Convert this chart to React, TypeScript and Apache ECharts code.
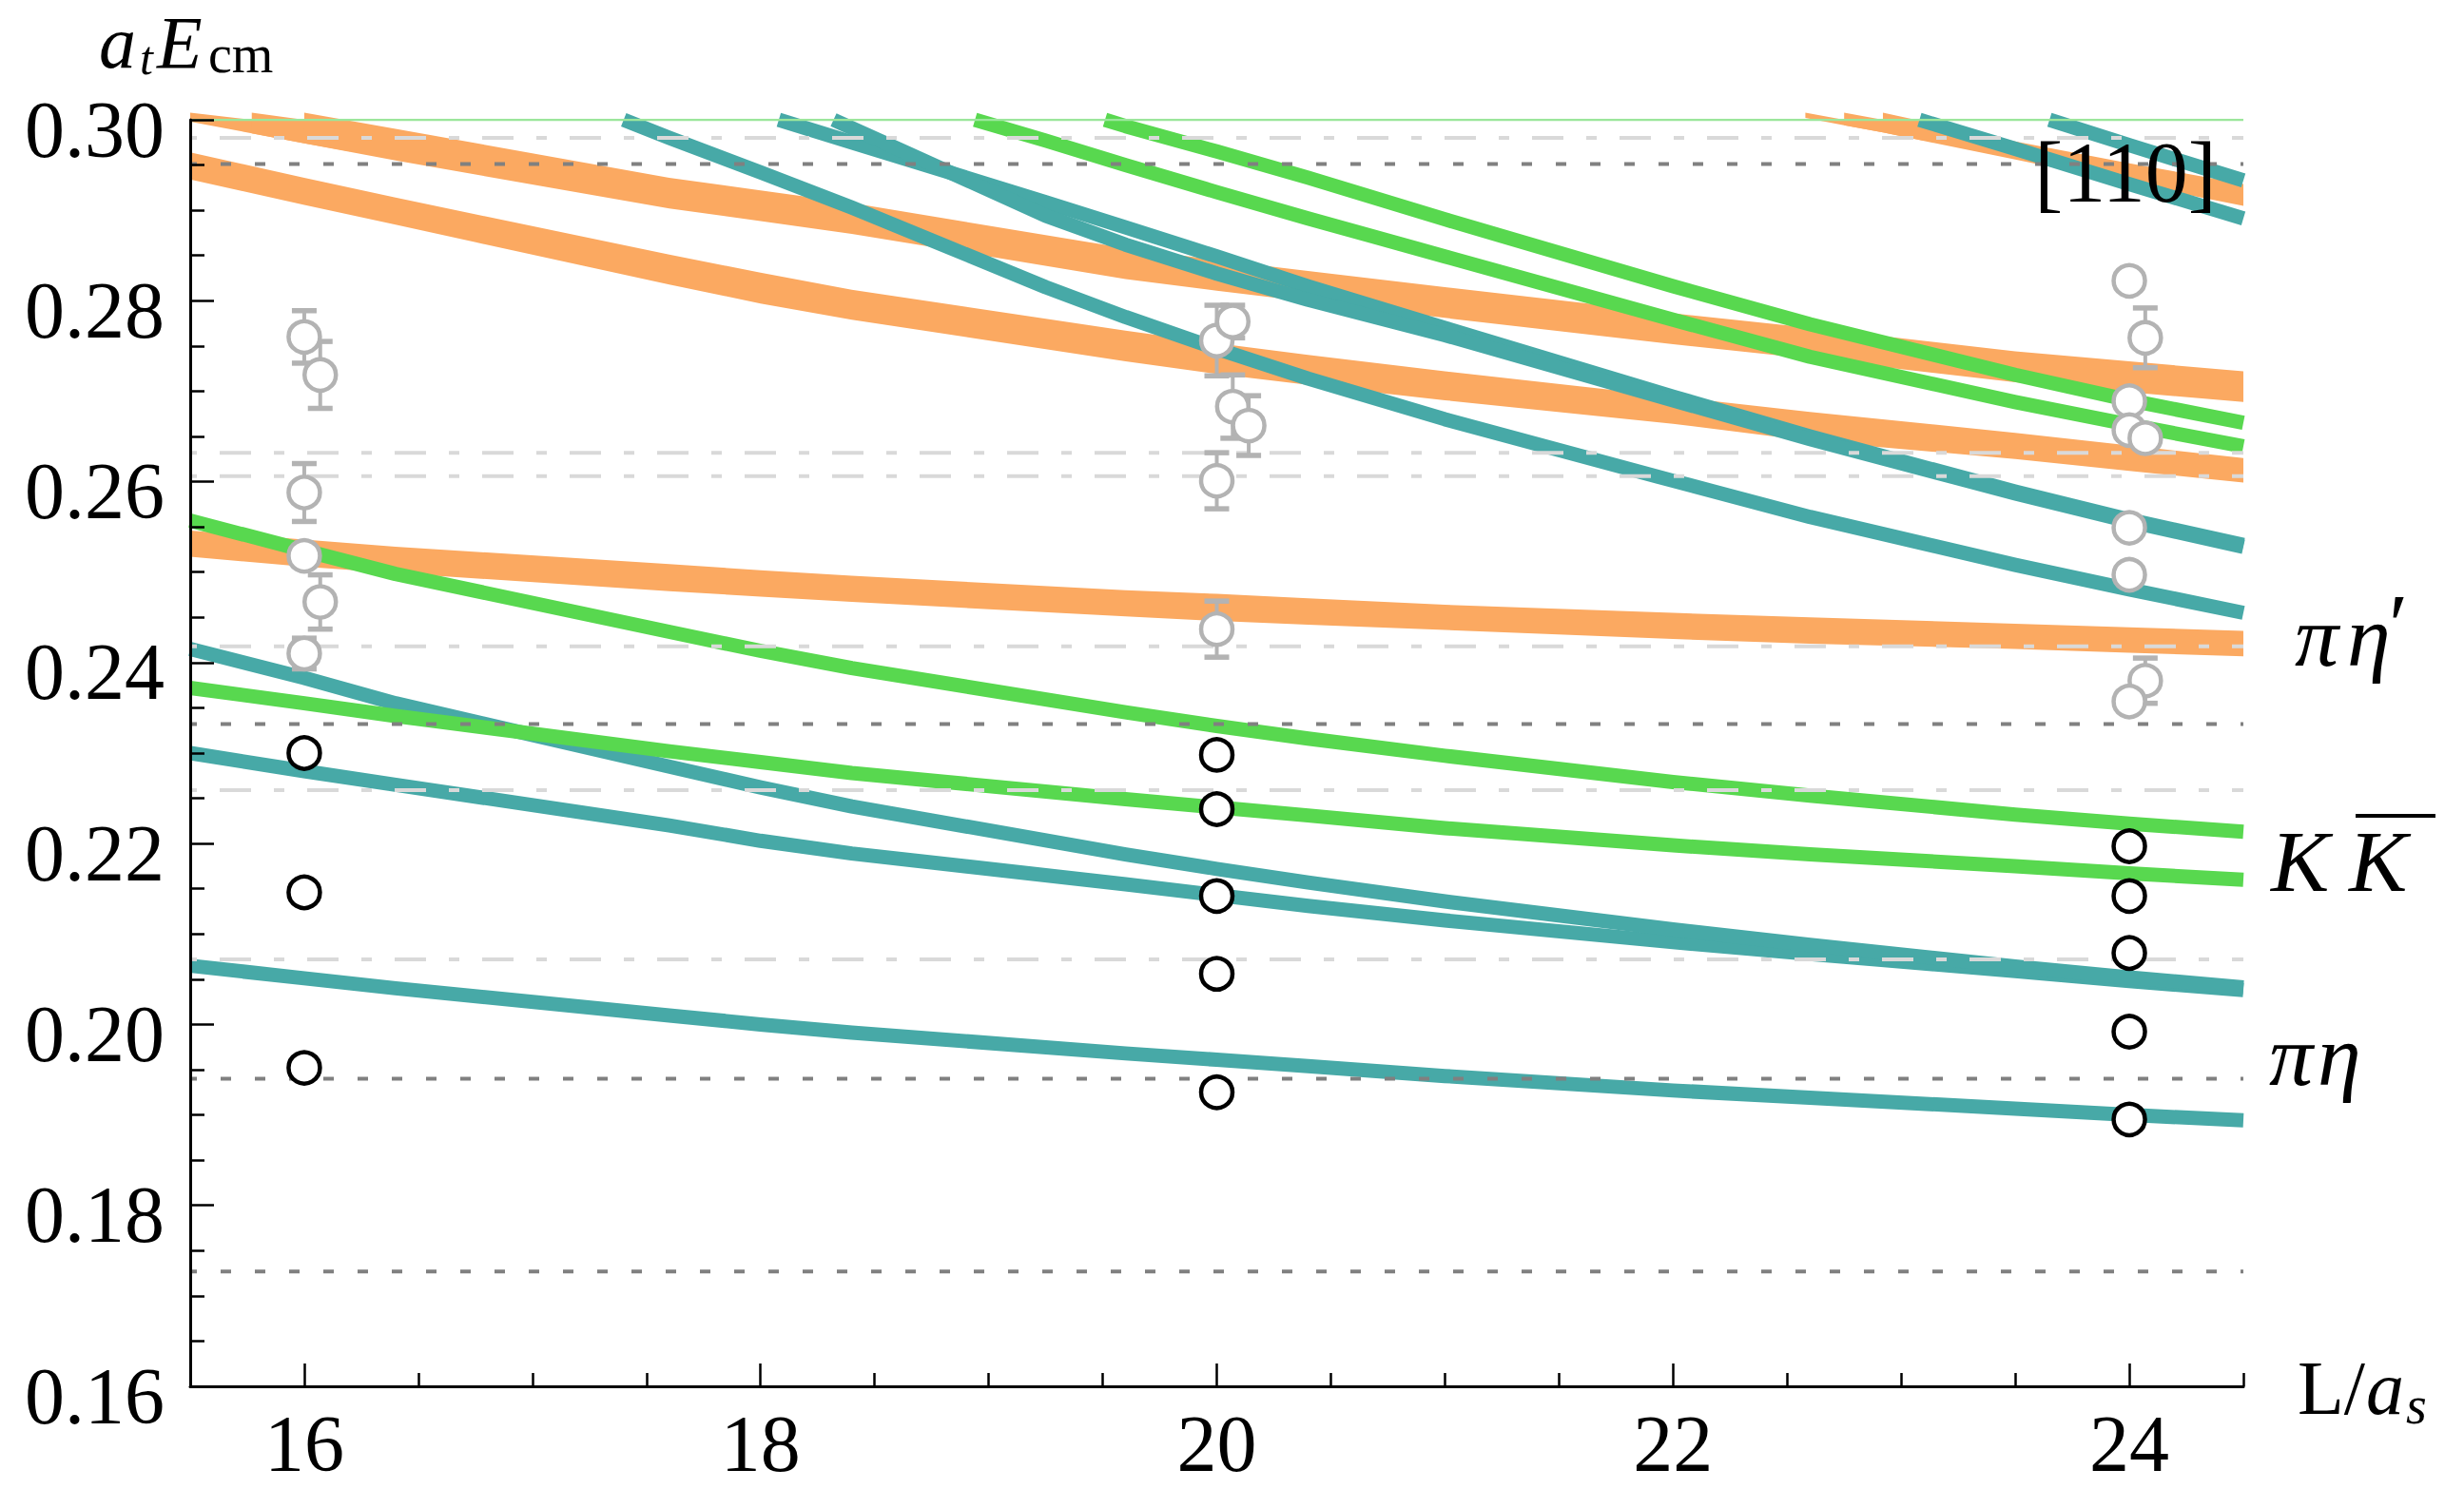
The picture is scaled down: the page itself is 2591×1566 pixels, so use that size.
import React, { useEffect, useRef } from "react";
import * as echarts from "echarts";

// ---------------------------------------------------------------------------
// Data
// ---------------------------------------------------------------------------

// L/a_s values at which the full-range curves are sampled
const L_SAMPLES = [15.5, 16, 16.4, 17.6, 18, 18.4, 19.6, 20, 20.4, 21, 22, 22.6, 23.5, 24, 24.5];

// πη non-interacting levels (teal), full range
const PI_ETA_1 = [0.2065, 0.2051, 0.204, 0.201, 0.2, 0.1991, 0.1968, 0.1961, 0.1954, 0.1943, 0.1927, 0.1919, 0.1907, 0.19, 0.1894];
const PI_ETA_2 = [0.23, 0.228, 0.2265, 0.222, 0.2203, 0.2189, 0.2155, 0.2143, 0.2131, 0.2115, 0.2091, 0.2078, 0.2059, 0.2048, 0.2038];
const PI_ETA_3 = [0.2415, 0.2383, 0.2355, 0.2285, 0.2262, 0.2241, 0.2188, 0.2172, 0.2157, 0.2136, 0.2105, 0.2088, 0.2064, 0.2052, 0.2041];

// πη levels entering from the top edge: [L/a_s, a_t E_cm]
const PI_ETA_4 = [[17.4, 0.3], [17.6, 0.298], [18, 0.2942], [18.4, 0.2903], [19.25, 0.2815], [19.6, 0.2782], [20, 0.2747], [20.4, 0.2714], [21, 0.2669], [22, 0.2601], [22.6, 0.2561], [23.5, 0.2508], [24, 0.2481], [24.5, 0.2455]];
const PI_ETA_5 = [[18.08, 0.3], [18.4, 0.2975], [19.25, 0.2909], [19.6, 0.2881], [20, 0.2849], [20.4, 0.2816], [21, 0.277], [22, 0.2694], [22.6, 0.265], [23.5, 0.2589], [24, 0.2558], [24.5, 0.253]];
const PI_ETA_6 = [[18.32, 0.3], [18.6, 0.2968], [19.25, 0.2894], [19.6, 0.2862], [20, 0.283], [20.4, 0.2801], [21, 0.2762], [22, 0.269], [22.6, 0.2647], [23.5, 0.2587], [24, 0.2556], [24.5, 0.2528]];
const PI_ETA_7 = [[23.08, 0.3], [23.5, 0.2968], [24, 0.2929], [24.5, 0.2891]];
const PI_ETA_8 = [[23.65, 0.3], [24, 0.2972], [24.5, 0.2933]];

// KK̄ non-interacting levels (green)
const K_KBAR_1 = [0.2557, 0.2524, 0.2498, 0.2434, 0.2413, 0.2394, 0.2345, 0.233, 0.2316, 0.2297, 0.2268, 0.2253, 0.2232, 0.2222, 0.2213];
const K_KBAR_2 = [0.2372, 0.2355, 0.2341, 0.2302, 0.229, 0.2278, 0.2249, 0.224, 0.2231, 0.2217, 0.2198, 0.2188, 0.2175, 0.2167, 0.216];
const K_KBAR_3 = [[18.94, 0.3], [19.25, 0.2977], [19.6, 0.295], [20, 0.292], [20.4, 0.2891], [21, 0.2849], [22, 0.2779], [22.6, 0.2738], [23.5, 0.2688], [24, 0.2663], [24.5, 0.2639]];
const K_KBAR_4 = [[19.51, 0.3], [19.6, 0.2993], [20, 0.2965], [20.4, 0.2936], [21, 0.289], [22, 0.2816], [22.6, 0.2774], [23.5, 0.2718], [24, 0.269], [24.5, 0.2665]];

// πη′ levels (orange bands): upper / lower edges
const ETAP_1_HI = [0.2546, 0.2536, 0.2528, 0.2509, 0.2502, 0.2496, 0.248, 0.2476, 0.2471, 0.2464, 0.2455, 0.245, 0.2443, 0.2439, 0.2435];
const ETAP_1_LO = [0.2517, 0.2506, 0.2499, 0.2479, 0.2473, 0.2467, 0.2451, 0.2446, 0.2442, 0.2436, 0.2426, 0.2421, 0.2415, 0.2411, 0.2407];
const ETAP_2_HI = [0.2964, 0.2936, 0.2914, 0.2851, 0.2831, 0.2812, 0.2767, 0.2753, 0.274, 0.2722, 0.2694, 0.2677, 0.2654, 0.264, 0.2626];
const ETAP_2_LO = [0.2934, 0.2906, 0.2884, 0.2818, 0.2797, 0.2779, 0.2733, 0.2719, 0.2707, 0.269, 0.2664, 0.2645, 0.2625, 0.2612, 0.2599];

// nearly degenerate πη′ bands near the top-left corner
const ETAP_3A_L = [15.5, 15.77, 16.0];
const ETAP_3A_HI = [0.3008, 0.3, 0.299];
const ETAP_3A_LO = [0.2998, 0.2985, 0.2974];
const ETAP_3B_L = [15.77, 16.0, 16.2];
const ETAP_3B_HI = [0.3008, 0.3, 0.2992];
const ETAP_3B_LO = [0.2985, 0.2974, 0.2965];
const ETAP_3C_L = [16.0, 16.4, 17.6, 18, 18.4, 19.6, 20, 20.4, 21, 22, 22.6, 23.5, 24, 24.5];
const ETAP_3C_HI = [0.3008, 0.299, 0.2936, 0.2922, 0.2908, 0.2858, 0.2845, 0.2833, 0.2815, 0.2786, 0.277, 0.2744, 0.2733, 0.2722];
const ETAP_3C_LO = [0.2974, 0.2955, 0.2902, 0.2888, 0.2874, 0.2824, 0.2811, 0.2799, 0.2781, 0.2752, 0.2736, 0.271, 0.2699, 0.2688];

// nearly degenerate πη′ bands near the top-right corner
const ETAP_4A_L = [22.58, 22.75, 22.92];
const ETAP_4A_HI = [0.3008, 0.3, 0.2993];
const ETAP_4A_LO = [0.3002, 0.2994, 0.2986];
const ETAP_4B_L = [22.75, 22.92, 23.1];
const ETAP_4B_HI = [0.3008, 0.3, 0.2992];
const ETAP_4B_LO = [0.2994, 0.2986, 0.2977];
const ETAP_4C_L = [22.92, 23.5, 24, 24.5];
const ETAP_4C_HI = [0.3008, 0.2976, 0.2952, 0.2929];
const ETAP_4C_LO = [0.2986, 0.2956, 0.293, 0.2905];

// horizontal reference energies
const THRESHOLDS = [0.2951, 0.2332, 0.194, 0.1727]; // dark dotted
const FREE_LEVELS = [0.298, 0.2632, 0.2606, 0.2418, 0.2259, 0.2072]; // light dash-dot

// extracted levels used in the analysis (black): [L/a_s, a_t E_cm]
const LEVELS_USED = [
  [16, 0.23], [16, 0.2146], [16, 0.1952],
  [20, 0.2298], [20, 0.2238], [20, 0.2142], [20, 0.2056], [20, 0.1925],
  [24, 0.2197], [24, 0.2142], [24, 0.2079], [24, 0.1992], [24, 0.1895],
];

// other extracted levels (grey): [L/a_s, a_t E_cm, uncertainty]
const LEVELS_OTHER = [
  [16, 0.276, 0.0029], [16.07, 0.2718, 0.0037], [16, 0.2588, 0.0032], [16, 0.2518, 0], [16.07, 0.2467, 0.003], [16, 0.241, 0.0017],
  [20, 0.2756, 0.0039], [20.07, 0.2777, 0.0018], [20.07, 0.2683, 0.0035], [20.14, 0.2662, 0.0033], [20, 0.2601, 0.0031], [20, 0.2437, 0.0031],
  [24, 0.2822, 0], [24.07, 0.2759, 0.0033], [24, 0.2689, 0], [24, 0.2657, 0], [24.07, 0.2648, 0], [24, 0.2549, 0], [24, 0.2497, 0], [24.07, 0.238, 0.0025], [24, 0.2357, 0],
];

const X_MAJOR = [16, 18, 20, 22, 24];
const X_MINOR = [16.5, 17, 17.5, 18.5, 19, 19.5, 20.5, 21, 21.5, 22.5, 23, 23.5, 24.5];

// ---------------------------------------------------------------------------
// Styling
// ---------------------------------------------------------------------------

const W = 2591;
const H = 1566;
const TEAL = "#47a9a7";
const GREEN = "#58d84f";
const ORANGE = "#fba961";
const GREY = "#b3b3b3";
const SERIF = "'Liberation Serif', 'DejaVu Serif', serif";
const CENTRAL = 0.3375; // offset of the central baseline above the alphabetic one, in em

const zip = (xs: number[], ys: number[]) => xs.map((x, i) => [x, ys[i]]);

const BANDS = [
  { x: L_SAMPLES, hi: ETAP_1_HI, lo: ETAP_1_LO },
  { x: L_SAMPLES, hi: ETAP_2_HI, lo: ETAP_2_LO },
  { x: ETAP_3A_L, hi: ETAP_3A_HI, lo: ETAP_3A_LO },
  { x: ETAP_3B_L, hi: ETAP_3B_HI, lo: ETAP_3B_LO },
  { x: ETAP_3C_L, hi: ETAP_3C_HI, lo: ETAP_3C_LO },
  { x: ETAP_4A_L, hi: ETAP_4A_HI, lo: ETAP_4A_LO },
  { x: ETAP_4B_L, hi: ETAP_4B_HI, lo: ETAP_4B_LO },
  { x: ETAP_4C_L, hi: ETAP_4C_HI, lo: ETAP_4C_LO },
];

function curve(data: number[][], color: string, z: number) {
  return {
    type: "line",
    data,
    symbol: "none",
    showSymbol: false,
    smooth: false,
    clip: false,
    silent: true,
    z,
    lineStyle: { color, width: 15, cap: "butt", join: "round" },
  };
}

function refLine(y: number, color: string, dash: number[], offset: number) {
  return {
    type: "line",
    data: [[15.5, y], [24.5, y]],
    symbol: "none",
    silent: true,
    z: 4,
    lineStyle: { color, width: 4, type: dash, dashOffset: offset },
  };
}

// text placed by its alphabetic baseline
function label(text: string, x: number, baseline: number, size: number, italic: boolean, align = "left") {
  return {
    type: "text",
    x,
    y: baseline - CENTRAL * size,
    z: 20,
    silent: true,
    style: {
      text,
      fill: "#000",
      fontSize: size,
      lineHeight: Math.round(size * 0.8),
      fontFamily: SERIF,
      fontStyle: italic ? "italic" : "normal",
      align,
      verticalAlign: "middle",
    },
  };
}

function buildOption() {
  const tickFont = { fontSize: 84, fontFamily: SERIF, color: "#000" };
  return {
    animation: false,
    backgroundColor: "#fff",
    grid: { left: 200, top: 126, right: W - 2359, bottom: H - 1458, containLabel: false, outerBoundsMode: "none" },
    xAxis: [
      {
        type: "value",
        min: 15.5,
        max: 24.5,
        position: "bottom",
        z: 10,
        axisLine: { onZero: false, lineStyle: { color: "#000", width: 3 } },
        axisTick: { inside: true, length: 24, customValues: X_MAJOR, lineStyle: { color: "#000", width: 2.5 } },
        axisLabel: { ...tickFont, lineHeight: 80, margin: 20, customValues: X_MAJOR, formatter: (v: number) => String(v) },
        splitLine: { show: false },
      },
      {
        type: "value",
        min: 15.5,
        max: 24.5,
        position: "bottom",
        z: 10,
        axisLine: { show: false },
        axisTick: { inside: true, length: 14, customValues: X_MINOR, lineStyle: { color: "#000", width: 2.5 } },
        axisLabel: { show: false },
        splitLine: { show: false },
      },
    ],
    yAxis: {
      type: "value",
      min: 0.16,
      max: 0.3,
      interval: 0.02,
      z: 10,
      axisLine: { onZero: false, lineStyle: { color: "#000", width: 3 } },
      axisTick: { inside: true, length: 25, lineStyle: { color: "#000", width: 2.5 } },
      minorTick: { show: true, splitNumber: 4, length: 15, lineStyle: { color: "#000", width: 2.5 } },
      // a short line box set from the tick's top edge puts the digits a little below each tick
      axisLabel: { ...tickFont, lineHeight: 20, verticalAlign: "top", margin: 27, formatter: (v: number) => v.toFixed(2) },
      splitLine: { show: false },
    },
    series: [
      {
        type: "custom",
        coordinateSystem: "cartesian2d",
        clip: false,
        silent: true,
        z: 1,
        data: BANDS.map((b) => [b.x[0], b.hi[0]]),
        renderItem: (params: any, api: any) => {
          const b = BANDS[params.dataIndex];
          const pts: number[][] = [];
          b.x.forEach((x, i) => pts.push(api.coord([x, b.hi[i]])));
          for (let i = b.x.length - 1; i >= 0; i--) pts.push(api.coord([b.x[i], b.lo[i]]));
          return { type: "polygon", shape: { points: pts }, style: { fill: ORANGE } };
        },
      },
      curve(zip(L_SAMPLES, PI_ETA_1), TEAL, 2),
      curve(zip(L_SAMPLES, PI_ETA_2), TEAL, 2),
      curve(zip(L_SAMPLES, PI_ETA_3), TEAL, 2),
      curve(PI_ETA_4, TEAL, 2),
      curve(PI_ETA_5, TEAL, 2),
      curve(PI_ETA_6, TEAL, 2),
      curve(PI_ETA_7, TEAL, 2),
      curve(PI_ETA_8, TEAL, 2),
      curve(zip(L_SAMPLES, K_KBAR_1), GREEN, 3),
      curve(zip(L_SAMPLES, K_KBAR_2), GREEN, 3),
      curve(K_KBAR_3, GREEN, 3),
      curve(K_KBAR_4, GREEN, 3),
      ...THRESHOLDS.map((y) => refLine(y, "#808080", [11, 25], 3.5)),
      ...FREE_LEVELS.map((y) => refLine(y, "#d9d9d9", [33, 24, 11, 24], 61)),
      {
        type: "line",
        data: [[15.5, 0.3], [24.5, 0.3]],
        symbol: "none",
        silent: true,
        z: 5,
        lineStyle: { color: "#9be69b", width: 2.5 },
      },
      {
        type: "custom",
        coordinateSystem: "cartesian2d",
        clip: false,
        silent: true,
        z: 6,
        data: LEVELS_OTHER.filter((p) => p[2] > 0),
        renderItem: (params: any, api: any) => {
          const x = api.value(0);
          const y = api.value(1);
          const e = api.value(2);
          const top = api.coord([x, y + e]);
          const bot = api.coord([x, y - e]);
          const half = 13;
          return {
            type: "group",
            children: [
              { type: "line", shape: { x1: top[0], y1: top[1], x2: bot[0], y2: bot[1] }, style: { stroke: GREY, lineWidth: 4 } },
              { type: "line", shape: { x1: top[0] - half, y1: top[1], x2: top[0] + half, y2: top[1] }, style: { stroke: GREY, lineWidth: 5.5 } },
              { type: "line", shape: { x1: bot[0] - half, y1: bot[1], x2: bot[0] + half, y2: bot[1] }, style: { stroke: GREY, lineWidth: 5.5 } },
            ],
          };
        },
      },
      {
        type: "scatter",
        data: LEVELS_OTHER.map((p) => [p[0], p[1]]),
        symbol: "circle",
        symbolSize: 33,
        silent: true,
        clip: false,
        z: 7,
        itemStyle: { color: "#fff", borderColor: GREY, borderWidth: 4.5, opacity: 1 },
      },
      {
        type: "scatter",
        data: LEVELS_USED,
        symbol: "circle",
        symbolSize: 33,
        silent: true,
        clip: false,
        z: 7,
        itemStyle: { color: "#fff", borderColor: "#000", borderWidth: 4.5, opacity: 1 },
      },
    ],
    graphic: [
      // a_t E_cm
      label("a", 104, 71, 78, true),
      label("t", 147, 78, 50, true),
      label("E", 165, 71, 78, true),
      label("cm", 219, 76, 56, false),
      // L/a_s
      label("L/", 2416, 1487, 80, false),
      label("a", 2488, 1487, 80, true),
      label("s", 2530, 1497, 56, true),
      // frame
      label("[110]", 2235, 212, 90, false, "center"),
      // channel labels
      label("π", 2413, 700, 92, true),
      label("η", 2468, 700, 92, true),
      label("′", 2512, 688, 92, false),
      label("K", 2388, 937, 92, true),
      label("K", 2470, 937, 92, true),
      {
        type: "rect",
        z: 20,
        silent: true,
        shape: { x: 2477, y: 856, width: 84, height: 4 },
        style: { fill: "#000" },
      },
      label("π", 2386, 1141, 92, true),
      label("η", 2437, 1141, 92, true),
    ],
  };
}

export default function App() {
  const ref = useRef<HTMLDivElement>(null);
  useEffect(() => {
    if (!ref.current) return;
    const chart = echarts.init(ref.current, undefined, { renderer: "svg", width: W, height: H });
    chart.setOption(buildOption() as any);
    return () => chart.dispose();
  }, []);
  return (
    <div
      ref={ref}
      style={{ position: "absolute", left: 0, top: 0, width: W, height: H, background: "#fff" }}
    />
  );
}
